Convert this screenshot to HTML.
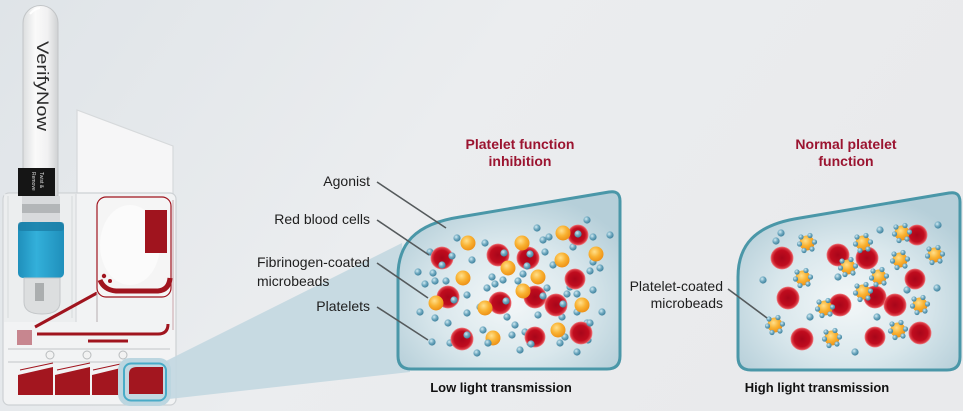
<!DOCTYPE html>
<html><head><meta charset="utf-8"><style>
html,body{margin:0;padding:0;width:963px;height:411px;overflow:hidden;background:#e7e9ec}
svg{display:block}
text{font-family:"Liberation Sans",Arial,sans-serif}
</style></head><body>
<svg width="963" height="411" viewBox="0 0 963 411" xmlns="http://www.w3.org/2000/svg">
<defs>
<linearGradient id="bg" x1="0" y1="0" x2="1" y2="0.3">
<stop offset="0" stop-color="#dfe4e8"/><stop offset="0.5" stop-color="#ebedef"/><stop offset="1" stop-color="#e9eaec"/></linearGradient>
<radialGradient id="gpan" cx="0.5" cy="0.62" r="0.62">
<stop offset="0" stop-color="#f3f7f8"/><stop offset="0.55" stop-color="#d9e7ec"/><stop offset="1" stop-color="#b6cfd9"/></radialGradient>
<radialGradient id="gpl" cx="0.38" cy="0.35" r="0.7">
<stop offset="0" stop-color="#d2ebf3"/><stop offset="0.5" stop-color="#6ea8bf"/><stop offset="1" stop-color="#3a7d99"/></radialGradient>
<radialGradient id="gor" cx="0.4" cy="0.35" r="0.7">
<stop offset="0" stop-color="#ffe08c"/><stop offset="0.5" stop-color="#f9b232"/><stop offset="1" stop-color="#ec8c12"/></radialGradient>
<radialGradient id="grd" cx="0.5" cy="0.5" r="0.5">
<stop offset="0" stop-color="#a8061a"/><stop offset="0.7" stop-color="#c00c1e"/><stop offset="1" stop-color="#e24a52"/></radialGradient>
<linearGradient id="gtube" x1="0" y1="0" x2="1" y2="0">
<stop offset="0" stop-color="#dcdedf"/><stop offset="0.35" stop-color="#fafafa"/><stop offset="0.7" stop-color="#f1f1f2"/><stop offset="1" stop-color="#cfd1d3"/></linearGradient>
<linearGradient id="gcap" x1="0" y1="0" x2="1" y2="0">
<stop offset="0" stop-color="#1f8fbb"/><stop offset="0.4" stop-color="#33b0da"/><stop offset="1" stop-color="#1f8fbb"/></linearGradient>
<circle id="pl" r="3.6" fill="url(#gpl)"/>
<circle id="ps" r="2.6" fill="url(#gpl)"/>
<circle id="ob" r="7.5" fill="url(#gor)"/>
<circle id="rc" r="11" fill="url(#grd)"/>
<circle id="rs" r="10" fill="url(#grd)"/>
<g id="pcb">
<use href="#ob"/>
<use href="#ps" x="-6" y="-6"/><use href="#ps" x="3" y="-7.5"/><use href="#ps" x="7.5" y="-1"/>
<use href="#ps" x="5" y="6"/><use href="#ps" x="-3" y="7.5"/><use href="#ps" x="-7.5" y="1"/>
</g>
</defs>

<rect x="0" y="0" width="963" height="411" fill="url(#bg)"/>

<!-- ===== Device ===== -->
<polygon points="77,110 173,146 173,205 77,205" fill="#f6f6f7" stroke="#d6d9db" stroke-width="1.2"/>
<rect x="3" y="193" width="173" height="212" rx="6" fill="#f2f3f4" stroke="#cdd1d4" stroke-width="1.2"/>
<rect x="4" y="194" width="72" height="128" fill="#eaeced" opacity="0.8"/>
<line x1="8" y1="196" x2="8" y2="318" stroke="#d6d9db"/>
<line x1="72" y1="196" x2="72" y2="318" stroke="#d6d9db"/>
<line x1="76" y1="194" x2="76" y2="322" stroke="#d3d6d8"/>
<!-- tube -->
<path d="M23,196 L23,23 A17.5,17.5 0 0 1 58,23 L58,196 Z" fill="url(#gtube)" stroke="#c2c5c7" stroke-width="1"/>
<path d="M30,14 Q34,9 40,8" stroke="#ffffff" stroke-width="2" fill="none" opacity="0.9"/>
<text transform="translate(37,41) rotate(90)" font-size="17" fill="#2b2b2b" textLength="90" lengthAdjust="spacingAndGlyphs">VerifyNow</text>
<rect x="18" y="168" width="37" height="28" fill="#151515"/>
<text transform="translate(40,172) rotate(90)" font-size="5" fill="#ddd">Twist &amp;</text>
<text transform="translate(32,172) rotate(90)" font-size="5" fill="#ddd">Remove</text>
<rect x="22" y="196" width="38" height="27" fill="#d8dadc"/>
<rect x="22" y="204" width="38" height="9" fill="#8e9194" opacity="0.5"/>
<!-- blue cap -->
<rect x="18" y="222" width="46" height="56" rx="5" fill="url(#gcap)"/>
<rect x="18" y="222" width="46" height="9" rx="3" fill="#1b7ea6" opacity="0.8"/>
<path d="M24,278 L60,278 L60,302 Q60,314 42,314 Q24,314 24,302 Z" fill="#dcdedf" stroke="#c4c7c9"/>
<rect x="35" y="283" width="9" height="18" fill="#8b8d8f" opacity="0.6"/>
<!-- upper right chamber -->
<rect x="97" y="197" width="74" height="100" rx="9" fill="#f5f5f5" stroke="#a0141e" stroke-width="1.2"/>
<ellipse cx="130" cy="245" rx="30" ry="40" fill="#fbfbfb"/>
<rect x="145" y="210" width="22" height="43" fill="#a0141e"/>
<path d="M100,280 Q104,290 116,291 L158,291 Q169,290 170,278" stroke="#a0141e" stroke-width="5" fill="none"/>
<circle cx="104" cy="276" r="2.2" fill="#a0141e"/><circle cx="110" cy="281" r="2" fill="#a0141e"/>
<!-- channels -->
<line x1="35" y1="327" x2="97" y2="293" stroke="#a0141e" stroke-width="3"/>
<line x1="97" y1="293" x2="97" y2="322" stroke="#b7aeb0" stroke-width="1"/>
<path d="M37,334 L158,334 Q168,334 168,324" stroke="#a0141e" stroke-width="3" fill="none"/>
<line x1="88" y1="341" x2="128" y2="341" stroke="#a0141e" stroke-width="3"/>
<line x1="173" y1="200" x2="173" y2="330" stroke="#c9a5aa" stroke-width="1"/>
<rect x="17" y="330" width="15" height="15" fill="#c7868f"/>
<line x1="8" y1="349" x2="170" y2="349" stroke="#c3c6c8" stroke-width="1"/>
<line x1="8" y1="362" x2="170" y2="362" stroke="#c3c6c8" stroke-width="1"/>
<g fill="#f2f2f2" stroke="#b9bcbe" stroke-width="1">
<circle cx="50" cy="355" r="4"/><circle cx="87" cy="355" r="4"/><circle cx="123" cy="355" r="4"/>
</g>
<g stroke="#a0141e" stroke-width="1">
<line x1="20" y1="370" x2="53" y2="363"/><line x1="57" y1="370" x2="90" y2="363"/><line x1="93" y1="370" x2="125" y2="363"/>
</g>
<g fill="#a3161f">
<path d="M18,375 L53,367 L53,395 L18,395 Z"/>
<path d="M55,375 L90,367 L90,395 L55,395 Z"/>
<path d="M92,375 L125,367 L125,395 L92,395 Z"/>
</g>

<!-- beam -->
<polygon points="160,364 402,243 410,372 160,400" fill="#c3d8e1" opacity="0.92"/>
<rect x="121" y="361" width="47" height="42" rx="9" fill="#c3d8e1" stroke="#bcd6e0" stroke-width="6"/>
<path d="M129,374 Q129,367 137,367 L163,367 L163,394 L129,394 Z" fill="#a3161f"/>
<rect x="124" y="363.5" width="42" height="37" rx="7" fill="none" stroke="#49abc7" stroke-width="2"/>

<!-- ===== Panels ===== -->
<path d="M398,356 L398,276 C398,245 414,224 460,217 L609,192 Q620,190 620,201 L620,356 Q620,369 607,369 L411,369 Q398,369 398,356 Z" fill="url(#gpan)" stroke="#4a97a8" stroke-width="3"/>
<path d="M398,356 L398,276 C398,245 414,224 460,217 L609,192 Q620,190 620,201 L620,356 Q620,369 607,369 L411,369 Q398,369 398,356 Z" transform="translate(340,1)" fill="url(#gpan)" stroke="#4a97a8" stroke-width="3"/>

<g>
<use href="#pl" x="587" y="220"/><use href="#pl" x="537" y="228"/><use href="#pl" x="543" y="240"/><use href="#pl" x="549" y="237"/>
<use href="#pl" x="457" y="238"/><use href="#pl" x="485" y="243"/><use href="#pl" x="573" y="247"/><use href="#pl" x="593" y="237"/>
<use href="#pl" x="505" y="253"/><use href="#pl" x="472" y="260"/><use href="#pl" x="532" y="255"/><use href="#pl" x="545" y="252"/>
<use href="#pl" x="553" y="265"/><use href="#pl" x="593" y="262"/><use href="#pl" x="600" y="268"/><use href="#pl" x="590" y="271"/>
<use href="#pl" x="418" y="272"/><use href="#pl" x="433" y="273"/><use href="#pl" x="435" y="281"/><use href="#pl" x="446" y="281"/>
<use href="#pl" x="492" y="277"/><use href="#pl" x="495" y="284"/><use href="#pl" x="503" y="280"/><use href="#pl" x="518" y="281"/>
<use href="#pl" x="523" y="274"/><use href="#pl" x="520" y="288"/><use href="#pl" x="487" y="288"/><use href="#pl" x="547" y="288"/>
<use href="#pl" x="570" y="287"/><use href="#pl" x="567" y="294"/><use href="#pl" x="577" y="294"/><use href="#pl" x="593" y="290"/>
<use href="#pl" x="467" y="295"/><use href="#pl" x="453" y="300"/><use href="#pl" x="480" y="307"/><use href="#pl" x="543" y="297"/>
<use href="#pl" x="577" y="312"/><use href="#pl" x="420" y="312"/><use href="#pl" x="435" y="318"/><use href="#pl" x="448" y="323"/>
<use href="#pl" x="467" y="313"/><use href="#pl" x="507" y="317"/><use href="#pl" x="515" y="325"/><use href="#pl" x="538" y="315"/>
<use href="#pl" x="562" y="317"/><use href="#pl" x="587" y="323"/><use href="#pl" x="602" y="312"/><use href="#pl" x="483" y="330"/>
<use href="#pl" x="512" y="335"/><use href="#pl" x="525" y="332"/><use href="#pl" x="432" y="342"/><use href="#pl" x="450" y="343"/>
<use href="#pl" x="467" y="335"/><use href="#pl" x="488" y="343"/><use href="#pl" x="530" y="343"/><use href="#pl" x="560" y="343"/>
<use href="#pl" x="565" y="337"/><use href="#pl" x="588" y="340"/><use href="#pl" x="477" y="353"/><use href="#pl" x="520" y="350"/>
<use href="#pl" x="577" y="352"/><use href="#pl" x="425" y="284"/><use href="#pl" x="610" y="235"/><use href="#pl" x="430" y="252"/>
</g>
<g stroke="#ea6a70" stroke-width="0.8">
<use href="#rc" x="442" y="258"/><use href="#rc" x="498" y="255"/><use href="#rc" x="528" y="258"/><use href="#rs" x="578" y="235"/>
<use href="#rs" x="575" y="279"/><use href="#rc" x="448" y="297"/><use href="#rc" x="500" y="303"/><use href="#rc" x="535" y="297"/>
<use href="#rc" x="556" y="305"/><use href="#rc" x="462" y="339"/><use href="#rs" x="535" y="337"/><use href="#rc" x="581" y="333"/>
</g>
<g>
<use href="#ob" x="468" y="243"/><use href="#ob" x="522" y="243"/><use href="#ob" x="563" y="233"/><use href="#ob" x="596" y="254"/>
<use href="#ob" x="562" y="260"/><use href="#ob" x="508" y="268"/><use href="#ob" x="463" y="278"/><use href="#ob" x="538" y="277"/>
<use href="#ob" x="436" y="303"/><use href="#ob" x="523" y="291"/><use href="#ob" x="485" y="308"/><use href="#ob" x="582" y="305"/>
<use href="#ob" x="493" y="338"/><use href="#ob" x="558" y="330"/>
</g>
<g>
<use href="#pl" x="452" y="256"/><use href="#pl" x="442" y="265"/><use href="#pl" x="504" y="253"/><use href="#pl" x="530" y="254"/>
<use href="#pl" x="527" y="266"/><use href="#pl" x="578" y="234"/><use href="#pl" x="454" y="300"/><use href="#pl" x="506" y="301"/>
<use href="#pl" x="543" y="296"/><use href="#pl" x="563" y="304"/><use href="#pl" x="467" y="335"/><use href="#pl" x="531" y="344"/>
<use href="#pl" x="590" y="323"/><use href="#pl" x="488" y="343"/>
</g>

<g>
<use href="#pl" x="781" y="233"/><use href="#pl" x="776" y="241"/><use href="#pl" x="763" y="280"/><use href="#pl" x="880" y="230"/>
<use href="#pl" x="938" y="225"/><use href="#pl" x="838" y="277"/><use href="#pl" x="937" y="288"/><use href="#pl" x="810" y="317"/>
<use href="#pl" x="877" y="317"/><use href="#pl" x="855" y="352"/><use href="#pl" x="907" y="290"/>
</g>
<g stroke="#ea6a70" stroke-width="0.8">
<use href="#rc" x="782" y="258"/><use href="#rc" x="838" y="255"/><use href="#rc" x="867" y="258"/><use href="#rs" x="917" y="235"/>
<use href="#rs" x="915" y="279"/><use href="#rc" x="788" y="298"/><use href="#rc" x="840" y="305"/><use href="#rc" x="875" y="297"/>
<use href="#rc" x="895" y="305"/><use href="#rc" x="802" y="339"/><use href="#rs" x="875" y="337"/><use href="#rc" x="920" y="333"/>
</g>
<g>
<use href="#pcb" x="807" y="243"/><use href="#pcb" x="863" y="243"/><use href="#pcb" x="902" y="233"/><use href="#pcb" x="935" y="255"/>
<use href="#pcb" x="900" y="260"/><use href="#pcb" x="848" y="267"/><use href="#pcb" x="803" y="278"/><use href="#pcb" x="879" y="277"/>
<use href="#pcb" x="775" y="325"/><use href="#pcb" x="863" y="292"/><use href="#pcb" x="825" y="308"/><use href="#pcb" x="920" y="305"/>
<use href="#pcb" x="832" y="338"/><use href="#pcb" x="898" y="330"/>
</g>

<g stroke="#555a5c" stroke-width="1.6" fill="none">
<line x1="377" y1="182" x2="446" y2="228"/>
<line x1="377" y1="220" x2="429" y2="255"/>
<line x1="377" y1="263" x2="428" y2="298"/>
<line x1="377" y1="307" x2="428" y2="340"/>
<line x1="728" y1="289" x2="767" y2="318"/>
</g>

<g font-size="14" fill="#1e1e1e">
<text x="370" y="186" text-anchor="end">Agonist</text>
<text x="370" y="224" text-anchor="end">Red blood cells</text>
<text x="257" y="267">Fibrinogen-coated</text>
<text x="257" y="286">microbeads</text>
<text x="370" y="311" text-anchor="end">Platelets</text>
<text x="723" y="291" text-anchor="end">Platelet-coated</text>
<text x="723" y="308" text-anchor="end">microbeads</text>
</g>
<g font-size="14" font-weight="bold" fill="#9b1430" text-anchor="middle">
<text x="520" y="149">Platelet function</text>
<text x="520" y="166">inhibition</text>
<text x="846" y="149">Normal platelet</text>
<text x="846" y="166">function</text>
</g>
<g font-size="13" font-weight="bold" fill="#111" text-anchor="middle">
<text x="501" y="392">Low light transmission</text>
<text x="817" y="392">High light transmission</text>
</g>
</svg>
</body></html>
